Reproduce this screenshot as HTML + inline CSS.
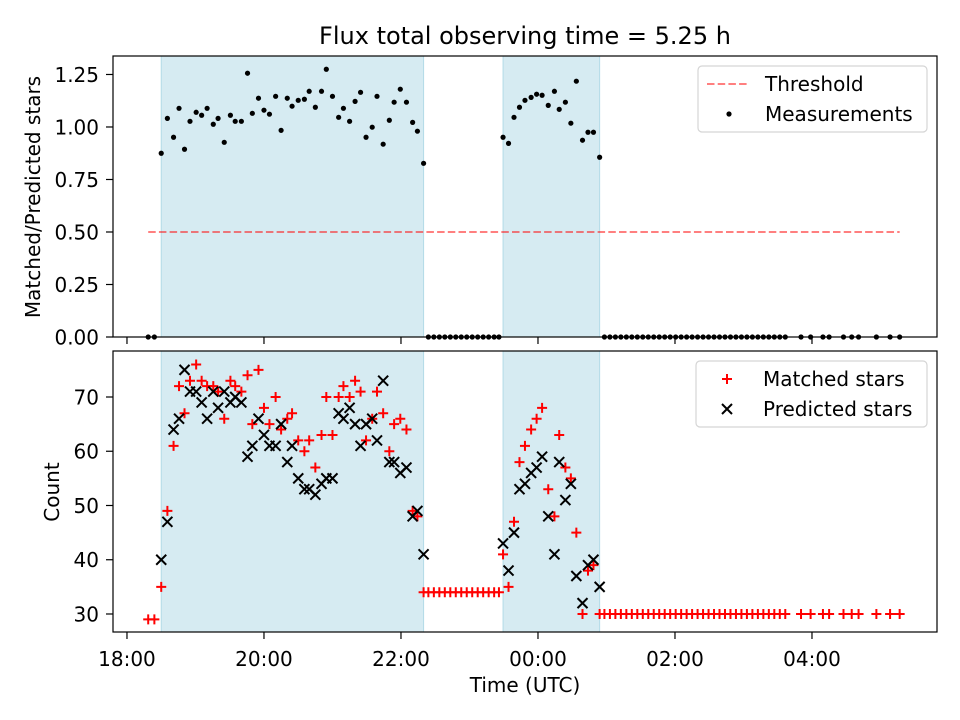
<!DOCTYPE html>
<html><head><meta charset="utf-8"><style>
body{margin:0;background:#fff;}
svg{display:block;font-family:"DejaVu Sans","Liberation Sans",sans-serif;}
</style></head><body>
<svg id="chart" width="960" height="720"></svg>
<script>
const segATimes=[18.50,18.59,18.68,18.76,18.84,18.92,19.01,19.09,19.17,19.26,19.33,19.42,19.51,19.58,19.67,19.76,19.83,19.92,20.00,20.08,20.17,20.25,20.34,20.41,20.50,20.59,20.66,20.75,20.84,20.91,21.00,21.09,21.16,21.25,21.33,21.41,21.49,21.58,21.65,21.74,21.83,21.90,21.99,22.08,22.17,22.24,22.33];
const segARatio=[0.875,1.041,0.951,1.089,0.894,1.027,1.070,1.056,1.089,1.013,1.041,0.927,1.056,1.027,1.027,1.256,1.065,1.137,1.080,1.061,1.146,0.984,1.137,1.099,1.127,1.132,1.170,1.094,1.170,1.275,1.146,1.046,1.089,1.027,1.122,1.165,0.951,0.999,1.146,0.918,1.032,1.118,1.180,1.118,1.022,0.980,0.827];
const segAPred=[40,47,64,66,75,71,71,69,66,71,68,71,69,70,69,59,61,66,63,61,61,65,58,61,55,53,53,52,54,55,55,67,66,68,65,61,65,66,62,73,58,58,56,57,48,49,41];
const segAMatch=[35,49,61,72,67,73,76,73,72,72,71,66,73,72,71,74,65,75,68,65,70,64,66,67,62,60,62,57,63,70,63,70,72,70,73,71,62,66,71,67,60,65,66,64,49,48,34];
const segBTimes=[23.49,23.57,23.65,23.73,23.81,23.90,23.98,24.06,24.15,24.24,24.31,24.40,24.48,24.56,24.65,24.73,24.81,24.90];
const segBRatio=[0.951,0.922,1.046,1.094,1.127,1.141,1.156,1.151,1.103,1.170,1.084,1.118,1.018,1.218,0.937,0.975,0.975,0.856];
const segBPred=[43,38,45,53,54,56,57,59,48,41,58,51,54,37,32,39,40,35];
const segBMatch=[41,35,47,58,61,64,66,68,53,48,63,57,55,45,30,38,39,30];
const zeroPreTimes=[18.31,18.40];
const zeroPreCounts=[29,29];
const zeroMidTimes=[22.40,22.48,22.56,22.64,22.72,22.80,22.88,22.96,23.04,23.12,23.20,23.28,23.36,23.43];
const zeroMidCounts=[34,34,34,34,34,34,34,34,34,34,34,34,34,34];
const zeroPostTimes=[24.97,25.05,25.13,25.21,25.29,25.37,25.45,25.53,25.61,25.69,25.77,25.85,25.93,26.01,26.09,26.17,26.25,26.33,26.41,26.49,26.57,26.65,26.73,26.81,26.89,26.97,27.05,27.13,27.21,27.29,27.37,27.45,27.53,27.61,27.84,27.98,28.16,28.25,28.46,28.58,28.68,28.94,29.14,29.28];
const zeroPostCounts=zeroPostTimes.map(()=>30);
const shadeSpans=[[18.50,22.33],[23.49,24.90]];
const threshold=0.5;
const xTickHours=[18,20,22,24,26,28];
const xTickLabels=["18:00","20:00","22:00","00:00","02:00","04:00"];
const topTicks=[0,0.25,0.5,0.75,1.0,1.25];
const topTickLabels=["0.00","0.25","0.50","0.75","1.00","1.25"];
const botTicks=[30,40,50,60,70];

const NS="http://www.w3.org/2000/svg";
const svg=document.getElementById('chart');
function el(tag,attrs,parent){const e=document.createElementNS(NS,tag);for(const k in attrs)e.setAttribute(k,attrs[k]);(parent||svg).appendChild(e);return e;}
const L=113,R=937;
const X0=17.796,X1=29.825;
const xs=h=>L+(h-X0)/(X1-X0)*(R-L);
const T={top:56,bot:337,min:0,max:1.338};
const B={top:351,bot:632,min:26.68,max:78.48};
const yT=v=>T.bot-(v-T.min)/(T.max-T.min)*(T.bot-T.top);
const yB=v=>B.bot-(v-B.min)/(B.max-B.min)*(B.bot-B.top);
const FS=20;

function panel(P,name){
  const g=el('g',{});
  
  
  shadeSpans.forEach(s=>{
    const r=el('rect',{x:xs(s[0]),y:P.top,width:xs(s[1])-xs(s[0]),height:P.bot-P.top,fill:'rgba(173,216,230,0.5)',stroke:'rgba(173,216,230,0.9)','stroke-width':1},g);
    
    
  });
  return g;
}
const gTop=panel(T,'top-panel');
const gBot=panel(B,'bottom-panel');

const allTimes=[...zeroPreTimes,...segATimes,...zeroMidTimes,...segBTimes,...zeroPostTimes];
const tmin=Math.min(...allTimes),tmax=Math.max(...allTimes);
const th=el('line',{x1:xs(tmin),x2:xs(tmax),y1:yT(threshold),y2:yT(threshold),stroke:'rgba(255,0,0,0.5)','stroke-width':2,'stroke-dasharray':'7.5,3.2'},gTop);



function dot(t,v){const c=el('circle',{cx:xs(t),cy:yT(v),r:2.6,fill:'#000'},gTop);

}
zeroPreTimes.forEach(t=>dot(t,0));
segATimes.forEach((t,i)=>dot(t,segARatio[i]));
zeroMidTimes.forEach(t=>dot(t,0));
segBTimes.forEach((t,i)=>dot(t,segBRatio[i]));
zeroPostTimes.forEach(t=>dot(t,0));

function plus(t,v){const x=xs(t),y=yB(v);const p=el('path',{d:`M${x-5},${y}H${x+5}M${x},${y-5}V${y+5}`,stroke:'#f00','stroke-width':2,fill:'none'},gBot);

}
function cross(t,v){const x=xs(t),y=yB(v);const p=el('path',{d:`M${x-5},${y-5}L${x+5},${y+5}M${x-5},${y+5}L${x+5},${y-5}`,stroke:'#000','stroke-width':2,fill:'none'},gBot);

}
zeroPreTimes.forEach((t,i)=>plus(t,zeroPreCounts[i]));
segATimes.forEach((t,i)=>plus(t,segAMatch[i]));
zeroMidTimes.forEach((t,i)=>plus(t,zeroMidCounts[i]));
segBTimes.forEach((t,i)=>plus(t,segBMatch[i]));
zeroPostTimes.forEach((t,i)=>plus(t,zeroPostCounts[i]));
segATimes.forEach((t,i)=>cross(t,segAPred[i]));
segBTimes.forEach((t,i)=>cross(t,segBPred[i]));

function frame(P,name){const r=el('rect',{x:L,y:P.top,width:R-L,height:P.bot-P.top,fill:'none',stroke:'#000','stroke-width':1.2});

}
frame(T,'top-axes-frame');frame(B,'bottom-axes-frame');
xTickHours.forEach((h,i)=>{
  el('line',{x1:xs(h),x2:xs(h),y1:T.bot,y2:T.bot+7,stroke:'#000','stroke-width':1.2});
  el('line',{x1:xs(h),x2:xs(h),y1:B.bot,y2:B.bot+7,stroke:'#000','stroke-width':1.2});
  const t=el('text',{x:xs(h),y:B.bot+34,'font-size':FS,'text-anchor':'middle'});
  t.textContent=xTickLabels[i];
  
  
});
topTicks.forEach((v,i)=>{
  el('line',{x1:L-7,x2:L,y1:yT(v),y2:yT(v),stroke:'#000','stroke-width':1.2});
  const t=el('text',{x:L-14,y:yT(v)+7.5,'font-size':FS,'text-anchor':'end'});
  t.textContent=topTickLabels[i];
  
  
});
botTicks.forEach(v=>{
  el('line',{x1:L-7,x2:L,y1:yB(v),y2:yB(v),stroke:'#000','stroke-width':1.2});
  const t=el('text',{x:L-14,y:yB(v)+7.5,'font-size':FS,'text-anchor':'end'});
  t.textContent=String(v);
  
  
});
function txt(s,attrs,name){const t=el('text',attrs);t.textContent=s;

return t;}
txt('Flux total observing time = 5.25 h',{x:525,y:44,'font-size':24,'text-anchor':'middle'},'chart-title');
txt('Time (UTC)',{x:525,y:692,'font-size':FS,'text-anchor':'middle'},'x-axis-title');
txt('Matched/Predicted stars',{x:0,y:0,'font-size':FS,'text-anchor':'middle',transform:'translate(40,197) rotate(-90)'},'top-y-axis-title');
txt('Count',{x:0,y:0,'font-size':FS,'text-anchor':'middle',transform:'translate(59,492) rotate(-90)'},'bottom-y-axis-title');

function legendBox(x,y,w,h,name){const r=el('rect',{x,y,width:w,height:h,rx:4,fill:'rgba(255,255,255,0.8)',stroke:'#d5d5d5','stroke-width':1.2});

}
legendBox(698,66,229,66,'top-legend');
el('line',{x1:707,x2:748,y1:84,y2:84,stroke:'rgba(255,0,0,0.5)','stroke-width':2,'stroke-dasharray':'7.5,3.2'});
txt('Threshold',{x:765,y:91,'font-size':FS},'legend-threshold');
el('circle',{cx:729,cy:114,r:2.6,fill:'#000'});
txt('Measurements',{x:765,y:121,'font-size':FS},'legend-measurements');
legendBox(696,361,231,66,'bottom-legend');
el('path',{d:'M722,379H732M727,374V384',stroke:'#f00','stroke-width':2});
txt('Matched stars',{x:763,y:386,'font-size':FS},'legend-matched-stars');
el('path',{d:'M722,404L732,414M722,414L732,404',stroke:'#000','stroke-width':2});
txt('Predicted stars',{x:763,y:416,'font-size':FS},'legend-predicted-stars');
</script>
</body></html>
